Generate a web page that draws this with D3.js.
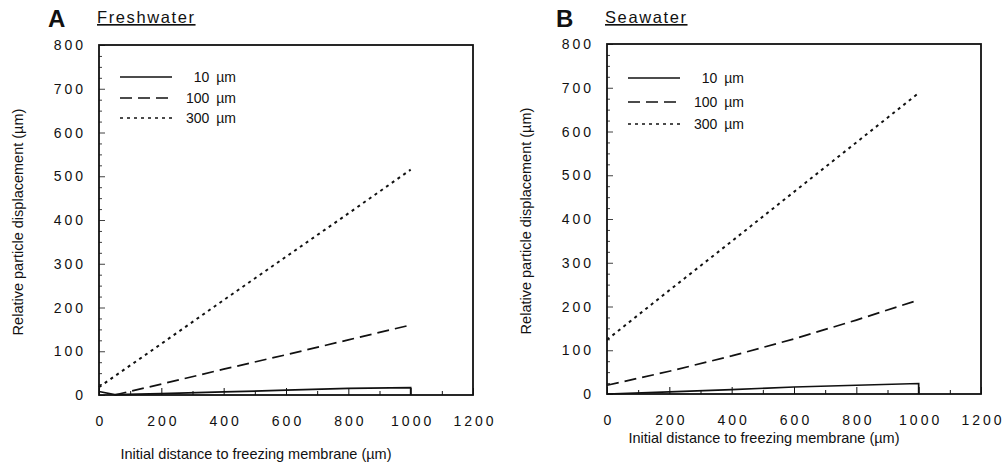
<!DOCTYPE html>
<html>
<head>
<meta charset="utf-8">
<script src="https://cdn.jsdelivr.net/npm/d3@7"></script>
<style>
  body { margin: 0; background: #fff; }
  text { font-family: "Liberation Sans", Arial, sans-serif; fill: #111; }
  .tick-label { font-size: 14px; letter-spacing: 3px; }
  .axis-label { font-size: 14.5px; }
</style>
</head>
<body>
<div id="chart"></div>
<script>
// 1: DATA
const xTicks = [0, 200, 400, 600, 800, 1000, 1200];
const yTicks = [0, 100, 200, 300, 400, 500, 600, 700, 800];
const sizeLabels = ["10 \u00b5m", "100 \u00b5m", "300 \u00b5m"];

// Freshwater series: [distance, displacement]
const fresh10 = [[0, 8], [50, 1], [200, 3], [400, 7], [600, 11], [800, 15], [1000, 17], [1000, 0]];
const fresh100 = [[50, 0], [200, 25], [400, 59], [600, 92], [800, 126], [1000, 160]];
const fresh300 = [[0, 18], [200, 117], [400, 217], [600, 316], [800, 415], [1000, 515]];

// Seawater series
const sea10 = [[0, 0], [200, 5], [400, 10], [600, 16], [800, 20], [1000, 24], [1000, 0]];
const sea100 = [[0, 20], [200, 52], [400, 87], [600, 126], [800, 169], [1000, 215]];
const sea300 = [[0, 124], [200, 237], [400, 349], [600, 462], [800, 575], [1000, 688]];

const panels = [
    { letter: "A", title: "Freshwater", series: [fresh10, fresh100, fresh300],
      x0: 99, x1: 473, yTop: 45, yBot: 395, legendX: 120, legendY: [77, 98, 118], xLabY: 459 },
    { letter: "B", title: "Seawater", series: [sea10, sea100, sea300],
      x0: 607, x1: 981, yTop: 44, yBot: 394, legendX: 628, legendY: [78, 102, 124], xLabY: 443 }
];

const dashes = [null, "12,6", "3,4"];

const svg = d3.select("#chart")
    .append("svg")
    .attr("width", 1008)
    .attr("height", 462);

panels.forEach(p => {
    const g = svg.append("g");

    const xScale = d3.scaleLinear().domain([0, 1200]).range([p.x0, p.x1]);
    const yScale = d3.scaleLinear().domain([0, 800]).range([p.yBot, p.yTop]);

    // Frame
    g.append("rect")
        .attr("x", p.x0)
        .attr("y", p.yTop)
        .attr("width", p.x1 - p.x0)
        .attr("height", p.yBot - p.yTop)
        .style("fill", "none")
        .style("stroke", "#111")
        .style("stroke-width", 1.8);

    // Inward ticks, bottom
    g.append("g")
        .attr("transform", `translate(0,${p.yBot})`)
        .call(d3.axisTop(xScale).tickValues(d3.range(0, 1201, 100)).tickSize(5).tickFormat(""))
        .call(a => a.select(".domain").remove())
        .call(a => a.selectAll("line").attr("stroke", "#111").attr("stroke-width", 1)
            .attr("y2", d => d % 200 === 0 ? -7 : -4));

    // Inward ticks, left
    g.append("g")
        .attr("transform", `translate(${p.x0},0)`)
        .call(d3.axisRight(yScale).tickValues(d3.range(0, 801, 25)).tickSize(4).tickFormat(""))
        .call(a => a.select(".domain").remove())
        .call(a => a.selectAll("line").attr("stroke", "#111").attr("stroke-width", 0.8)
            .attr("x2", d => d % 100 === 0 ? 6 : 3));

    // Tick labels
    g.selectAll(".xl")
        .data(xTicks)
        .enter()
        .append("text")
        .attr("class", "tick-label")
        .attr("x", d => xScale(d) + 2)
        .attr("y", p.yBot + 31)
        .attr("text-anchor", "middle")
        .text(d => d);

    g.selectAll(".yl")
        .data(yTicks)
        .enter()
        .append("text")
        .attr("class", "tick-label")
        .attr("x", p.x0 - 13)
        .attr("y", d => yScale(d) + 5)
        .attr("text-anchor", "end")
        .text(d => d);

    // Axis labels
    g.append("text")
        .attr("class", "axis-label")
        .attr("x", (p.x0 + p.x1) / 2 - 30)
        .attr("y", p.xLabY)
        .attr("text-anchor", "middle")
        .text("Initial distance to freezing membrane (\u00b5m)");

    g.append("text")
        .attr("class", "axis-label")
        .attr("transform", "rotate(-90)")
        .attr("x", -(p.yTop + p.yBot) / 2 - 2)
        .attr("y", p.x0 - 76)
        .attr("text-anchor", "middle")
        .text("Relative particle displacement (\u00b5m)");

    // Panel letter and title
    g.append("text")
        .attr("x", p.x0 - 51)
        .attr("y", 27)
        .style("font-size", "24px")
        .style("font-weight", "bold")
        .text(p.letter);

    g.append("text")
        .attr("x", p.x0 - 2)
        .attr("y", 23)
        .style("font-size", "16.5px")
        .style("letter-spacing", "1.6px")
        .style("text-decoration", "underline")
        .text(p.title);

    // Lines
    const line = d3.line()
        .x(d => xScale(d[0]))
        .y(d => yScale(d[1]));

    p.series.forEach((s, i) => {
        g.append("path")
            .attr("d", line(s))
            .style("fill", "none")
            .style("stroke", "#111")
            .style("stroke-width", i === 2 ? 2 : 1.7)
            .style("stroke-dasharray", dashes[i]);
    });

    // Legend
    sizeLabels.forEach((lab, i) => {
        g.append("line")
            .attr("x1", p.legendX)
            .attr("x2", p.legendX + 52)
            .attr("y1", p.legendY[i])
            .attr("y2", p.legendY[i])
            .style("stroke", "#111")
            .style("stroke-width", 1.4)
            .style("stroke-dasharray", dashes[i]);
        g.append("text")
            .attr("x", p.legendX + 116)
            .attr("y", p.legendY[i] + 5)
            .attr("text-anchor", "end")
            .style("font-size", "14px")
            .text(lab.replace(" ", "\u2002"));
    });
});
</script>
</body>
</html>
